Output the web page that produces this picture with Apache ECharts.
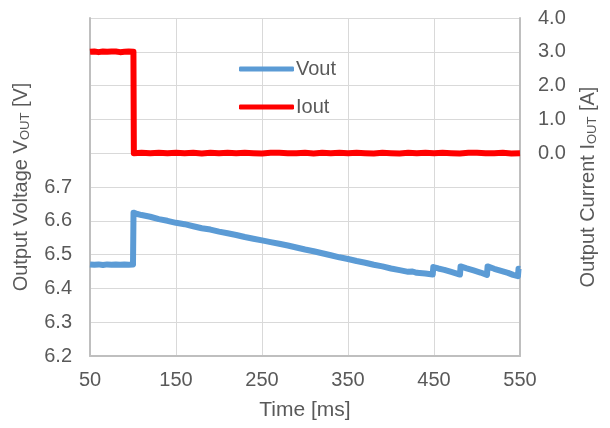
<!DOCTYPE html>
<html>
<head>
<meta charset="utf-8">
<script src="https://cdn.jsdelivr.net/npm/echarts@6/dist/echarts.min.js"></script>
<style>html,body{margin:0;padding:0;background:#fff}#c{width:610px;height:428px}</style>
</head>
<body>
<div id="c"></div>
<script>
// Time axis ticks
var timeTicks = [50, 150, 250, 350, 450, 550];
var voltTicks = [6.2, 6.3, 6.4, 6.5, 6.6, 6.7];
var currTicks = [0.0, 1.0, 2.0, 3.0, 4.0];

// Vout series
var tV = [50, 55, 60, 65, 70, 75, 80, 85, 90, 95, 100, 100.6,
  105, 110, 120, 130, 140, 150, 160, 170, 180, 190, 200, 210, 220, 230, 240, 250,
  260, 270, 280, 290, 300, 310, 320, 330, 340, 350, 360, 370, 380, 390, 400, 410,
  420, 425, 430, 440, 448.5,
  449.2, 455, 462, 470, 480.2,
  480.9, 488, 496, 504, 511.6,
  512.3, 520, 528, 536, 542, 547.6,
  548.3, 550];
var vout = [6.471, 6.470, 6.471, 6.469, 6.471, 6.470, 6.471, 6.470, 6.471, 6.470, 6.471, 6.624,
  6.620, 6.617, 6.612, 6.605, 6.600, 6.594, 6.590, 6.584, 6.578, 6.574, 6.568, 6.563, 6.558, 6.552, 6.547, 6.542,
  6.537, 6.532, 6.527, 6.521, 6.515, 6.510, 6.504, 6.498, 6.492, 6.487, 6.481, 6.476, 6.470, 6.465, 6.459, 6.454,
  6.449, 6.450, 6.446, 6.444, 6.441,
  6.463, 6.459, 6.455, 6.449, 6.441,
  6.465, 6.459, 6.453, 6.447, 6.440,
  6.465, 6.458, 6.452, 6.446, 6.440, 6.436,
  6.458, 6.457];

// Iout series
var tI = [50, 55, 60, 65, 70, 75, 80, 85, 90, 95, 100.5, 101,
  110, 120, 130, 140, 150, 160, 170, 180, 190, 200, 210, 220, 230, 240, 250,
  260, 270, 280, 290, 300, 310, 320, 330, 340, 350, 360, 370, 380, 390, 400,
  410, 420, 430, 440, 450, 460, 470, 480, 490, 500, 510, 520, 530, 540, 550];
var iout = [3.00, 3.01, 2.99, 3.01, 3.00, 3.01, 3.01, 2.99, 3.00, 3.01, 3.00, 0.00,
  0.01, 0.00, 0.01, 0.00, 0.01, 0.00, 0.01, -0.01, 0.01, 0.00, 0.01, 0.00, 0.01, 0.00, -0.01,
  0.01, 0.01, 0.00, 0.00, 0.01, -0.01, 0.01, 0.00, 0.01, 0.00, 0.01, 0.00, -0.01, 0.01, 0.00,
  -0.01, 0.01, 0.00, 0.01, 0.00, 0.01, 0.00, -0.01, 0.01, 0.01, 0.00, 0.00, 0.01, -0.01, 0.00];

var font = 'Liberation Sans, Arial, sans-serif';
var txt = '#595959';

var chart = echarts.init(document.getElementById('c'), null, {renderer: 'canvas'});
chart.setOption({
  animation: false,
  backgroundColor: '#ffffff',
  grid: {left: 90, right: 90, top: 18, bottom: 72, containLabel: false},
  legend: [
    {data: ['Vout'], left: 234, top: 54, itemWidth: 55, itemHeight: 5, icon: 'roundRect', itemGap: 4,
     textStyle: {fontFamily: font, fontSize: 20, color: txt, padding: [0, 0, 0, -3]}},
    {data: ['Iout'], left: 234, top: 92, itemWidth: 55, itemHeight: 5, icon: 'roundRect', itemGap: 4,
     textStyle: {fontFamily: font, fontSize: 20, color: txt, padding: [0, 0, 0, -3]}}
  ],
  xAxis: {
    type: 'value', min: timeTicks[0], max: timeTicks[timeTicks.length - 1], interval: 100,
    name: 'Time [ms]', nameLocation: 'middle', nameGap: 44,
    nameTextStyle: {fontFamily: font, fontSize: 21, color: txt},
    axisLine: {show: true, onZero: false, lineStyle: {color: '#BFBFBF', width: 2}},
    axisTick: {show: false},
    axisLabel: {fontFamily: font, fontSize: 20, color: txt, margin: 14,
      formatter: function (v) { return String(Math.round(v)); }},
    splitLine: {show: true, lineStyle: {color: '#D9D9D9', width: 1}}
  },
  yAxis: [
    {
      type: 'value', min: 6.2, max: 7.2, interval: 0.1, position: 'left',
      name: 'Output Voltage V{sub|OUT} [V]', nameLocation: 'middle', nameGap: 58, nameRotate: 90,
      nameTextStyle: {fontFamily: font, fontSize: 20, color: txt,
        rich: {sub: {fontFamily: font, fontSize: 13, color: txt, verticalAlign: 'bottom', padding: [8, 0, 0, 0]}}},
      axisLine: {show: true, lineStyle: {color: '#BFBFBF', width: 2}},
      axisTick: {show: false},
      axisLabel: {fontFamily: font, fontSize: 20, color: txt, margin: 18,
        formatter: function (v) { return v <= voltTicks[voltTicks.length - 1] + 0.01 ? v.toFixed(1) : ''; }},
      splitLine: {show: true, lineStyle: {color: '#D9D9D9', width: 1}}
    },
    {
      type: 'value', min: -6, max: 4, interval: 1, position: 'right',
      name: 'Output Current I{sub|OUT} [A]', nameLocation: 'middle', nameGap: 58, nameRotate: 90,
      nameTextStyle: {fontFamily: font, fontSize: 20, color: txt,
        rich: {sub: {fontFamily: font, fontSize: 13, color: txt, verticalAlign: 'bottom', padding: [8, 0, 0, 0]}}},
      axisLine: {show: true, lineStyle: {color: '#BFBFBF', width: 2}},
      axisTick: {show: false},
      axisLabel: {fontFamily: font, fontSize: 20, color: txt, margin: 18,
        formatter: function (v) { return v >= currTicks[0] - 0.01 ? v.toFixed(1) : ''; }},
      splitLine: {show: false}
    }
  ],
  series: [
    {
      name: 'Vout', type: 'line', yAxisIndex: 0, showSymbol: false, symbol: 'none',
      data: tV.map(function (t, i) { return [t, vout[i]]; }),
      lineStyle: {color: '#5B9BD5', width: 6, join: 'round', cap: 'butt'},
      itemStyle: {color: '#5B9BD5'}
    },
    {
      name: 'Iout', type: 'line', yAxisIndex: 1, showSymbol: false, symbol: 'none',
      data: tI.map(function (t, i) { return [t, iout[i]]; }),
      lineStyle: {color: '#FF0000', width: 6, join: 'round', cap: 'butt'},
      itemStyle: {color: '#FF0000'}
    }
  ]
});
</script>
</body>
</html>
